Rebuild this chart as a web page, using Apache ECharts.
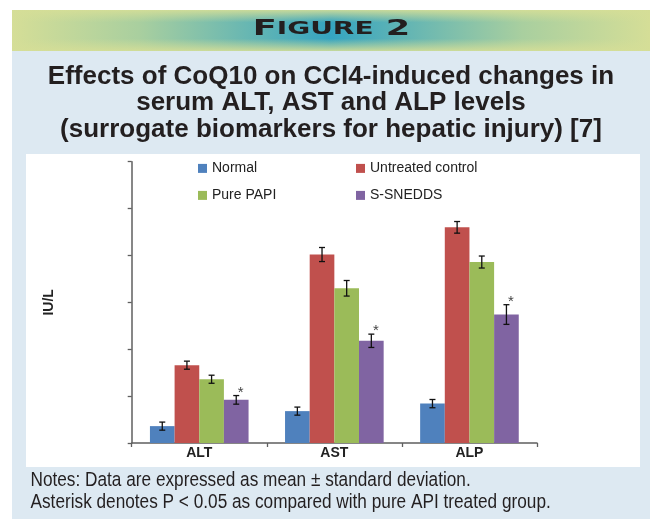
<!DOCTYPE html>
<html>
<head>
<meta charset="utf-8">
<script src="https://cdn.jsdelivr.net/npm/echarts@6/dist/echarts.min.js"></script>
<style>
html, body { margin: 0; padding: 0; background: #fff; }
#chart { width: 650px; height: 519px; }
</style>
</head>
<body>
<div id="chart"></div>
<script>
// values (y axis has no labels, 1 tick = 50 units)
const categories = ['ALT', 'AST', 'ALP'];
const groupNames = ['Normal', 'Untreated control', 'Pure PAPI', 'S-SNEDDS'];
const groupColors = ['#4f81bd', '#c0504d', '#9bbb59', '#8064a2'];

const normal = [18, 34, 42];
const normalSd = [4.3, 4.3, 4.4];
const untreated = [83, 201, 230];
const untreatedSd = [4.3, 7.5, 6.2];
const purePapi = [68, 165, 193];
const purePapiSd = [4.3, 8.3, 6.4];
const sSnedds = [46, 109, 137];
const sSneddsSd = [4.6, 7.1, 10.5];

const groupValues = [normal, untreated, purePapi, sSnedds];
const groupSd = [normalSd, untreatedSd, purePapiSd, sSneddsSd];
const starredGroup = 3; // asterisk: P < 0.05 vs pure API

const CAT_GAP = 0.27;
const sans = '"Liberation Sans", Arial, sans-serif';

const chart = echarts.init(document.getElementById('chart'), null, { renderer: 'canvas' });

function errorSeries(g) {
    return {
        type: 'custom',
        z: 5,
        silent: true,
        encode: { x: 0, y: 1 },
        data: categories.map((c, i) => [i, groupValues[g][i], groupSd[g][i]]),
        renderItem: function (params, api) {
            const cat = api.value(0);
            const mean = api.value(1);
            const dev = api.value(2);
            const band = api.size([1, 0])[0];
            const used = band * (1 - CAT_GAP);
            const barW = used / 4;
            const cx = api.coord([cat, mean])[0] - used / 2 + barW * (g + 0.5);
            const hi = api.coord([cat, mean + dev])[1];
            const lo = api.coord([cat, mean - dev])[1];
            const st = () => ({ stroke: '#111', lineWidth: 1.3 });
            const children = [
                { type: 'line', shape: { x1: cx, y1: hi, x2: cx, y2: lo }, style: st() },
                { type: 'line', shape: { x1: cx - 3, y1: hi, x2: cx + 3, y2: hi }, style: st() },
                { type: 'line', shape: { x1: cx - 3, y1: lo, x2: cx + 3, y2: lo }, style: st() }
            ];
            if (g === starredGroup) {
                children.push({
                    type: 'text',
                    x: cx + 4.5,
                    y: hi - 3,
                    style: {
                        text: '*', fill: '#444', font: '15px ' + sans,
                        textAlign: 'center', textVerticalAlign: 'middle'
                    }
                });
            }
            return { type: 'group', children: children };
        }
    };
}

const barSeries = groupNames.map((name, g) => ({
    name: name,
    type: 'bar',
    data: groupValues[g],
    barGap: '0%',
    barCategoryGap: (CAT_GAP * 100) + '%',
    itemStyle: { color: groupColors[g] }
}));

const legendBase = {
    orient: 'vertical',
    top: 159.4,
    padding: 0,
    icon: 'rect',
    itemWidth: 9,
    itemHeight: 9,
    itemGap: 9,
    selectedMode: false,
    textStyle: { fontFamily: sans, fontSize: 14, lineHeight: 18, color: '#222' }
};

chart.setOption({
    animation: false,
    graphic: [
        { type: 'rect', z: -10, shape: { x: 12, y: 10, width: 638, height: 509 }, style: { fill: '#dde9f2' } },
        {
            type: 'rect', z: -9, shape: { x: 12, y: 10, width: 638, height: 41 },
            style: {
                fill: new echarts.graphic.LinearGradient(0, 0, 1, 0, [
                    { offset: 0, color: '#d5de97' },
                    { offset: 0.2, color: '#a9cf9f' },
                    { offset: 0.5, color: '#35a4c1' },
                    { offset: 0.8, color: '#a9cf9f' },
                    { offset: 1, color: '#d5de97' }
                ])
            }
        },
        {
            type: 'rect', z: -8, shape: { x: 12, y: 10, width: 638, height: 41 },
            style: {
                fill: new echarts.graphic.LinearGradient(0, 0, 0, 1, [
                    { offset: 0, color: 'rgba(213,222,151,0.9)' },
                    { offset: 0.3, color: 'rgba(213,222,151,0)' },
                    { offset: 0.7, color: 'rgba(213,222,151,0)' },
                    { offset: 1, color: 'rgba(213,222,151,0.9)' }
                ])
            }
        },
        { type: 'rect', z: -7, shape: { x: 26, y: 154, width: 614, height: 313 }, style: { fill: '#ffffff' } },
        {
            type: 'text', z: -6, x: 331.5, y: 40.5, scaleX: 1.6,
            style: {
                text: '{b|F}{s|IGURE}{b| 2}',
                textAlign: 'center', textVerticalAlign: 'bottom',
                rich: {
                    b: { fontFamily: '"DejaVu Sans", sans-serif', fontWeight: 'bold', fontSize: 22, fill: '#231f20' },
                    s: { fontFamily: '"DejaVu Sans", sans-serif', fontWeight: 'bold', fontSize: 17.5, fill: '#231f20' }
                }
            }
        },
        {
            type: 'text', z: -6, x: 331, y: 63.5,
            style: {
                text: 'Effects of CoQ10 on CCl4-induced changes in\nserum ALT, AST and ALP levels\n(surrogate biomarkers for hepatic injury) [7]',
                textAlign: 'center', textVerticalAlign: 'top',
                font: 'bold 26px ' + sans, lineHeight: 26.5, fill: '#231f20'
            }
        },
        {
            type: 'text', z: -6, x: 30.5, y: 469.5, scaleX: 0.84,
            style: {
                text: 'Notes: Data are expressed as mean \u00b1 standard deviation.\nAsterisk denotes P < 0.05 as compared with pure API treated group.',
                textAlign: 'left', textVerticalAlign: 'top',
                font: '20.5px ' + sans, lineHeight: 22, fill: '#231f20'
            }
        }
    ],
    legend: [
        Object.assign({ left: 198, data: ['Normal', 'Pure PAPI'] }, legendBase),
        Object.assign({ left: 356, data: ['Untreated control', 'S-SNEDDS'] }, legendBase)
    ],
    grid: { left: 131.7, right: 113, top: 161.7, bottom: 76, containLabel: false },
    xAxis: {
        type: 'category',
        data: categories,
        axisLine: { lineStyle: { color: '#5f5f5f', width: 1.5 } },
        axisTick: { show: true, length: 4, lineStyle: { color: '#5f5f5f', width: 1.3 } },
        axisLabel: { fontFamily: sans, fontWeight: 'bold', fontSize: 14, color: '#222', margin: 3 }
    },
    yAxis: {
        type: 'value',
        min: 0,
        max: 300,
        interval: 50,
        name: 'IU/L',
        nameLocation: 'middle',
        nameRotate: 90,
        nameGap: 76,
        nameTextStyle: { fontFamily: sans, fontWeight: 'bold', fontSize: 14, color: '#222' },
        axisLine: { show: true, lineStyle: { color: '#5f5f5f', width: 1.5 } },
        axisTick: { show: true, length: 4, lineStyle: { color: '#5f5f5f', width: 1.3 } },
        axisLabel: { show: false },
        splitLine: { show: false }
    },
    series: barSeries.concat(groupNames.map((n, g) => errorSeries(g)))
});
</script>
</body>
</html>
